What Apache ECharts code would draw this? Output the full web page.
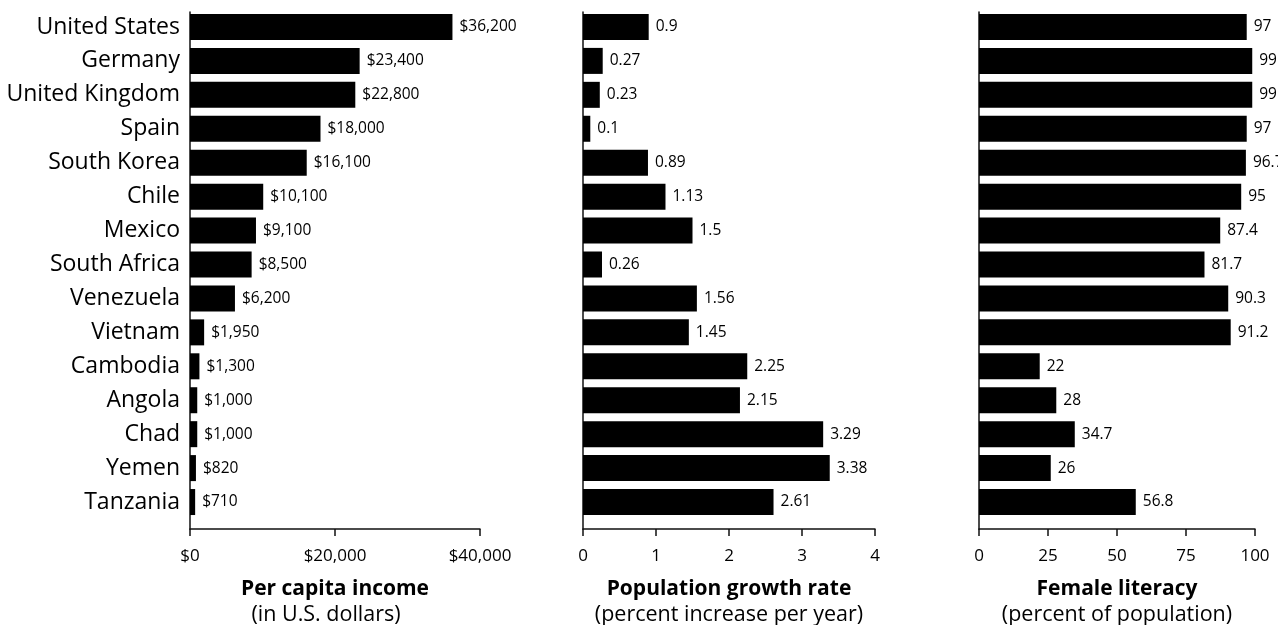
<!DOCTYPE html>
<html>
<head>
<meta charset="utf-8">
<style>
html,body{margin:0;padding:0;background:#fff;}
#chart{width:1278px;height:625px;}
</style>
<script src="https://cdn.jsdelivr.net/npm/echarts@6/dist/echarts.min.js"></script>
</head>
<body>
<div id="chart"></div>
<script>
const countries = ['United States','Germany','United Kingdom','Spain','South Korea','Chile','Mexico','South Africa','Venezuela','Vietnam','Cambodia','Angola','Chad','Yemen','Tanzania'];
const income = [36200,23400,22800,18000,16100,10100,9100,8500,6200,1950,1300,1000,1000,820,710];
const growth = [0.9,0.27,0.23,0.1,0.89,1.13,1.5,0.26,1.56,1.45,2.25,2.15,3.29,3.38,2.61];
const literacy = [97,99,99,97,96.7,95,87.4,81.7,90.3,91.2,22,28,34.7,26,56.8];

const panelTitles = [
  ['Per capita income','(in U.S. dollars)'],
  ['Population growth rate','(percent increase per year)'],
  ['Female literacy','(percent of population)']
];

const FONT = 'Open Sans';
const money = v => '$' + Number(v).toLocaleString('en-US');

const panels = [
  {left:190, width:290, max:40000, interval:20000, data:income, fmt:money, tickFmt:money, subPad:[0,18,0,0]},
  {left:583, width:292, max:4, interval:1, data:growth, fmt:v=>String(v), tickFmt:v=>String(v), subPad:[0,0,0,0]},
  {left:979, width:276, max:100, interval:25, data:literacy, fmt:v=>String(v), tickFmt:v=>String(v), subPad:[0,0,0,0]}
];

const grid = [], xAxis = [], yAxis = [], series = [];
panels.forEach((p, i) => {
  grid.push({left:p.left, width:p.width, top:10, height:509, outerBoundsMode:'none'});
  xAxis.push({
    type:'value', gridIndex:i, min:0, max:p.max, interval:p.interval, offset:10,
    axisLine:{show:true, lineStyle:{color:'#111', width:1.5}},
    axisTick:{show:true, length:7, lineStyle:{color:'#111', width:1.5}},
    splitLine:{show:false},
    axisLabel:{color:'#000', fontFamily:FONT, fontSize:17, margin:19, formatter:p.tickFmt},
    name:'{b|' + panelTitles[i][0] + '}\n{n|' + panelTitles[i][1] + '}',
    nameLocation:'middle', nameGap:48,
    nameTextStyle:{rich:{
      b:{fontFamily:FONT, fontWeight:'bold', fontSize:21, color:'#000', lineHeight:25},
      n:{fontFamily:FONT, fontSize:21.5, color:'#000', lineHeight:25, padding:p.subPad}
    }}
  });
  yAxis.push({
    type:'category', gridIndex:i, data:countries, inverse:true,
    axisLine:{show:false}, axisTick:{show:false},
    axisLabel:{show:i===0, color:'#000', fontFamily:FONT, fontSize:23, margin:10}
  });
  series.push({
    type:'bar', xAxisIndex:i, yAxisIndex:i, data:p.data, barWidth:26,
    itemStyle:{color:'#000'},
    label:{show:true, position:'right', distance:7, color:'#000', fontFamily:FONT, fontSize:15.5, formatter:o=>p.fmt(o.value)},
    silent:true, animation:false
  });
});
// separate grids that only carry the full-height vertical axis line of each panel
panels.forEach((p, i) => {
  const gi = grid.length;
  grid.push({left:p.left, width:p.width, top:12, height:517, outerBoundsMode:'none'});
  xAxis.push({type:'value', gridIndex:gi, show:false, min:0, max:1});
  yAxis.push({type:'value', gridIndex:gi, min:0, max:1,
    axisLine:{show:true, lineStyle:{color:'#111', width:1.5}},
    axisTick:{show:false}, axisLabel:{show:false}, splitLine:{show:false}});
});

const chart = echarts.init(document.getElementById('chart'), null, {renderer:'canvas'});
chart.setOption({animation:false, backgroundColor:'#fff', grid, xAxis, yAxis, series});
</script>
</body>
</html>
